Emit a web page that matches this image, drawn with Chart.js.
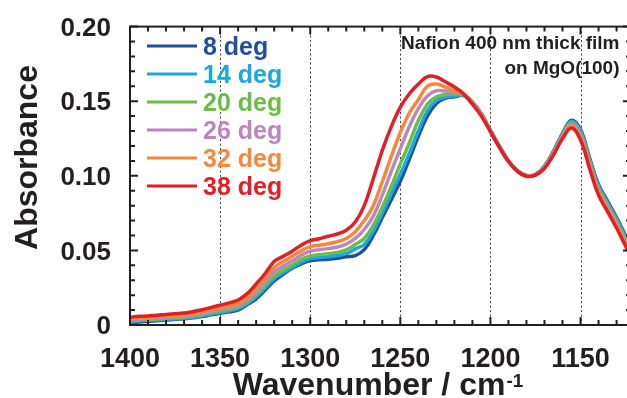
<!DOCTYPE html>
<html>
<head>
<meta charset="utf-8">
<style>
html,body{margin:0;padding:0;background:#fff;width:627px;height:398px;overflow:hidden}
#wrap{position:relative;width:627px;height:398px;overflow:hidden}
#c{position:absolute;left:0;top:0}
</style>
<script src="https://cdn.jsdelivr.net/npm/chart.js@4.4.1/dist/chart.umd.min.js"></script>
</head>
<body>
<div id="wrap"><canvas id="c" width="640" height="398"></canvas></div>
<script>
// ---- data ----
const wavenumbers = [
  1400,1395,1390,1385,1380,1375,1370,1365,1360,1355,
  1350,1345,1340,1335,1330,1325,1320,1315,1310,1305,
  1300,1295,1290,1285,1280,1275,1270,1265,1260,1255,
  1250,1245,1240,1235,1230,1225,1220,1215,1210,1205,
  1200,1195,1190,1185,1180,1175,1170,1165,1160,1155,
  1150,1145,1140,1135,1130,1125,1120];

const seriesLabels = ['8 deg','14 deg','20 deg','26 deg','32 deg','38 deg'];
const seriesColors = ['#214f9e','#1ba8e0','#6cbd45','#bd86bf','#f6883a','#e31e26'];

const abs8 = [
  0.0015,0.0020,0.0025,0.0029,0.0033,0.0038,0.0042,0.0048,0.0056,0.0068,
  0.0078,0.0088,0.0100,0.0135,0.0175,0.0235,0.0295,0.0340,0.0380,0.0410,
  0.0432,0.0437,0.0440,0.0447,0.0458,0.0465,0.0505,0.0600,0.0720,0.0840,
  0.0963,0.1110,0.1265,0.1400,0.1485,0.1520,0.1530,0.1538,0.1495,0.1416,
  0.1304,0.1199,0.1101,0.1035,0.1002,0.1010,0.1065,0.1165,0.1285,0.1372,
  0.1310,0.1120,0.0940,0.0830,0.0720,0.0600,0.0490];
const abs14 = [
  0.0022,0.0027,0.0031,0.0034,0.0038,0.0042,0.0046,0.0052,0.0061,0.0074,
  0.0084,0.0096,0.0110,0.0142,0.0190,0.0250,0.0310,0.0350,0.0385,0.0420,
  0.0445,0.0453,0.0458,0.0466,0.0478,0.0510,0.0540,0.0630,0.0750,0.0880,
  0.1010,0.1150,0.1300,0.1435,0.1505,0.1528,0.1535,0.1540,0.1494,0.1415,
  0.1303,0.1198,0.1100,0.1034,0.1001,0.1009,0.1062,0.1160,0.1280,0.1365,
  0.1300,0.1110,0.0930,0.0820,0.0710,0.0590,0.0480];
const abs20 = [
  0.0028,0.0033,0.0036,0.0040,0.0044,0.0048,0.0052,0.0059,0.0069,0.0082,
  0.0094,0.0106,0.0120,0.0153,0.0205,0.0268,0.0328,0.0368,0.0403,0.0440,
  0.0463,0.0472,0.0478,0.0487,0.0503,0.0540,0.0580,0.0670,0.0790,0.0930,
  0.1080,0.1220,0.1370,0.1480,0.1530,0.1545,0.1545,0.1543,0.1492,0.1413,
  0.1302,0.1196,0.1099,0.1033,0.1000,0.1008,0.1059,0.1155,0.1273,0.1355,
  0.1285,0.1095,0.0915,0.0805,0.0695,0.0575,0.0465];
const abs26 = [
  0.0035,0.0040,0.0043,0.0048,0.0052,0.0056,0.0060,0.0067,0.0078,0.0092,
  0.0104,0.0117,0.0133,0.0168,0.0225,0.0290,0.0355,0.0395,0.0430,0.0468,
  0.0495,0.0505,0.0512,0.0522,0.0542,0.0580,0.0640,0.0730,0.0870,0.1030,
  0.1180,0.1330,0.1450,0.1535,0.1570,0.1568,0.1558,0.1548,0.1490,0.1410,
  0.1300,0.1194,0.1098,0.1032,0.0999,0.1007,0.1056,0.1150,0.1266,0.1345,
  0.1270,0.1080,0.0900,0.0790,0.0680,0.0560,0.0450];
const abs32 = [
  0.0042,0.0047,0.0050,0.0055,0.0060,0.0064,0.0068,0.0076,0.0088,0.0103,
  0.0116,0.0130,0.0148,0.0185,0.0245,0.0315,0.0385,0.0425,0.0460,0.0497,
  0.0525,0.0535,0.0545,0.0558,0.0580,0.0625,0.0700,0.0800,0.0960,0.1130,
  0.1290,0.1420,0.1510,0.1600,0.1615,0.1595,0.1570,0.1550,0.1485,0.1405,
  0.1298,0.1192,0.1097,0.1031,0.0998,0.1006,0.1053,0.1145,0.1258,0.1333,
  0.1255,0.1065,0.0885,0.0775,0.0665,0.0545,0.0435];
const abs38 = [
  0.0052,0.0058,0.0060,0.0066,0.0070,0.0075,0.0080,0.0090,0.0102,0.0118,
  0.0133,0.0148,0.0168,0.0210,0.0275,0.0345,0.0425,0.0460,0.0495,0.0535,
  0.0565,0.0578,0.0595,0.0610,0.0635,0.0690,0.0800,0.0980,0.1170,0.1330,
  0.1460,0.1550,0.1615,0.1665,0.1662,0.1630,0.1595,0.1550,0.1480,0.1400,
  0.1296,0.1190,0.1096,0.1030,0.0997,0.1005,0.1050,0.1140,0.1250,0.1320,
  0.1240,0.1050,0.0870,0.0760,0.0650,0.0530,0.0420];

const xTickValues = [1400,1350,1300,1250,1200,1150];
const xTickLabels = ['1400','1350','1300','1250','1200','1150'];
const xGridValues = [1350,1300,1250,1200,1150];
const yTickValues = [0,0.05,0.10,0.15,0.20];
const yTickLabels = ['0','0.05','0.10','0.15','0.20'];
const xMinorStep = 10;
const yMinorStep = 0.01;

const xTitle = 'Wavenumber / cm';
const xTitleSup = '-1';
const yTitle = 'Absorbance';
const noteLines = ['Nafion 400 nm thick film','on MgO(100)'];

// ---- chart ----
const FONT = '"Liberation Sans", Arial, Helvetica, sans-serif';
const INK = '#231f20';
const allSeries = [abs8, abs14, abs20, abs26, abs32, abs38];

const datasets = allSeries.map((arr, i) => ({
  label: seriesLabels[i],
  data: wavenumbers.map((w, j) => ({x: w, y: arr[j]})),
  borderColor: seriesColors[i],
  backgroundColor: seriesColors[i],
  borderWidth: 3.5,
  pointRadius: 0,
  tension: 0.4,
  fill: false,
  order: allSeries.length - 1 - i
}));

const decorPlugin = {
  id: 'decor',
  beforeDatasetsDraw(chart) {
    const {ctx, chartArea: a, scales: {x}} = chart;
    ctx.save();
    ctx.strokeStyle = '#3a3a3a';
    ctx.lineWidth = 1;
    ctx.setLineDash([2, 2.5]);
    xGridValues.forEach(v => {
      const px = Math.round(x.getPixelForValue(v)) + 0.5;
      ctx.beginPath(); ctx.moveTo(px, a.top); ctx.lineTo(px, a.bottom); ctx.stroke();
    });
    ctx.restore();
  },
  afterDatasetsDraw(chart) {
    const {ctx, chartArea: a, scales: {x, y}} = chart;
    ctx.save();
    ctx.strokeStyle = INK;
    ctx.fillStyle = INK;
    // frame
    ctx.lineWidth = 2;
    ctx.strokeRect(a.left, a.top, a.right - a.left, a.bottom - a.top);
    // inward ticks
    ctx.lineWidth = 2;
    const xMin = Math.min(x.min, x.max), xMax = Math.max(x.min, x.max);
    for (let v = xMax; v >= xMin - 1e-9; v -= xMinorStep) {
      const major = xTickValues.some(t => Math.abs(t - v) < 1e-6);
      const len = major ? 8 : 5;
      const px = x.getPixelForValue(v);
      ctx.beginPath();
      ctx.moveTo(px, a.bottom); ctx.lineTo(px, a.bottom - len);
      ctx.moveTo(px, a.top); ctx.lineTo(px, a.top + len);
      ctx.stroke();
    }
    for (let k = 0; k <= Math.round((y.max - y.min) / yMinorStep); k++) {
      const v = y.min + k * yMinorStep;
      const major = yTickValues.some(t => Math.abs(t - v) < 1e-6);
      const len = major ? 8 : 5;
      const py = y.getPixelForValue(v);
      ctx.beginPath();
      ctx.moveTo(a.left, py); ctx.lineTo(a.left + len, py);
      ctx.moveTo(a.right, py); ctx.lineTo(a.right - len, py);
      ctx.stroke();
    }
    // legend
    const legX = 147, legLen = 50, legY0 = 46, legStep = 28;
    ctx.font = 'bold 25px ' + FONT;
    ctx.textAlign = 'left';
    ctx.textBaseline = 'alphabetic';
    chart.data.datasets.forEach((ds, i) => {
      const yy = legY0 + i * legStep;
      ctx.strokeStyle = ds.borderColor;
      ctx.lineWidth = 3;
      ctx.beginPath(); ctx.moveTo(legX, yy); ctx.lineTo(legX + legLen, yy); ctx.stroke();
      ctx.fillStyle = ds.borderColor;
      ctx.fillText(ds.label, legX + legLen + 6, yy + 9);
    });
    // note
    ctx.fillStyle = INK;
    ctx.font = 'bold 19px ' + FONT;
    ctx.textAlign = 'right';
    ctx.fillText(noteLines[0], 619.5, 48.5);
    ctx.fillText(noteLines[1], 619.5, 74);
    // x title with superscript
    ctx.textAlign = 'left';
    ctx.font = 'bold 32px ' + FONT;
    const wMain = ctx.measureText(xTitle).width;
    ctx.font = 'bold 19px ' + FONT;
    const wSup = ctx.measureText(xTitleSup).width;
    const startX = 378 - (wMain + 1 + wSup) / 2;
    ctx.font = 'bold 32px ' + FONT;
    ctx.fillText(xTitle, startX, 395);
    ctx.font = 'bold 19px ' + FONT;
    ctx.fillText(xTitleSup, startX + wMain + 1, 387);
    // y title
    ctx.save();
    ctx.translate(36.5, 157.5);
    ctx.rotate(-Math.PI / 2);
    ctx.font = 'bold 32px ' + FONT;
    ctx.textAlign = 'center';
    ctx.fillText(yTitle, 0, 0);
    ctx.restore();
    ctx.restore();
  }
};

new Chart(document.getElementById('c'), {
  type: 'line',
  data: {datasets},
  options: {
    responsive: false,
    animation: false,
    devicePixelRatio: 1,
    layout: {padding: {left: 0, top: 24, right: 9, bottom: 0}},
    plugins: {legend: {display: false}, tooltip: {enabled: false}, title: {display: false}},
    scales: {
      x: {
        type: 'linear',
        reverse: true,
        min: 1122,
        max: 1400,
        grid: {display: false},
        border: {display: false},
        afterBuildTicks: s => { s.ticks = xTickValues.map(v => ({value: v})); },
        afterFit: s => { s.height = 73; },
        ticks: {
          autoSkip: false,
          maxRotation: 0,
          padding: 10,
          color: INK,
          font: {family: FONT, size: 27, weight: 'bold'},
          callback: (v) => { const i = xTickValues.indexOf(v); return i >= 0 ? xTickLabels[i] : ''; }
        }
      },
      y: {
        type: 'linear',
        min: 0,
        max: 0.2,
        grid: {display: false},
        border: {display: false},
        afterBuildTicks: s => { s.ticks = yTickValues.map(v => ({value: v})); },
        afterFit: s => { s.width = 130; },
        ticks: {
          autoSkip: false,
          padding: 11,
          labelOffset: 2,
          color: INK,
          font: {family: FONT, size: 26, weight: 'bold'},
          callback: (v) => { const i = yTickValues.findIndex(t => Math.abs(t - v) < 1e-9); return i >= 0 ? yTickLabels[i] : ''; }
        }
      }
    }
  },
  plugins: [decorPlugin]
});
</script>
</body>
</html>
